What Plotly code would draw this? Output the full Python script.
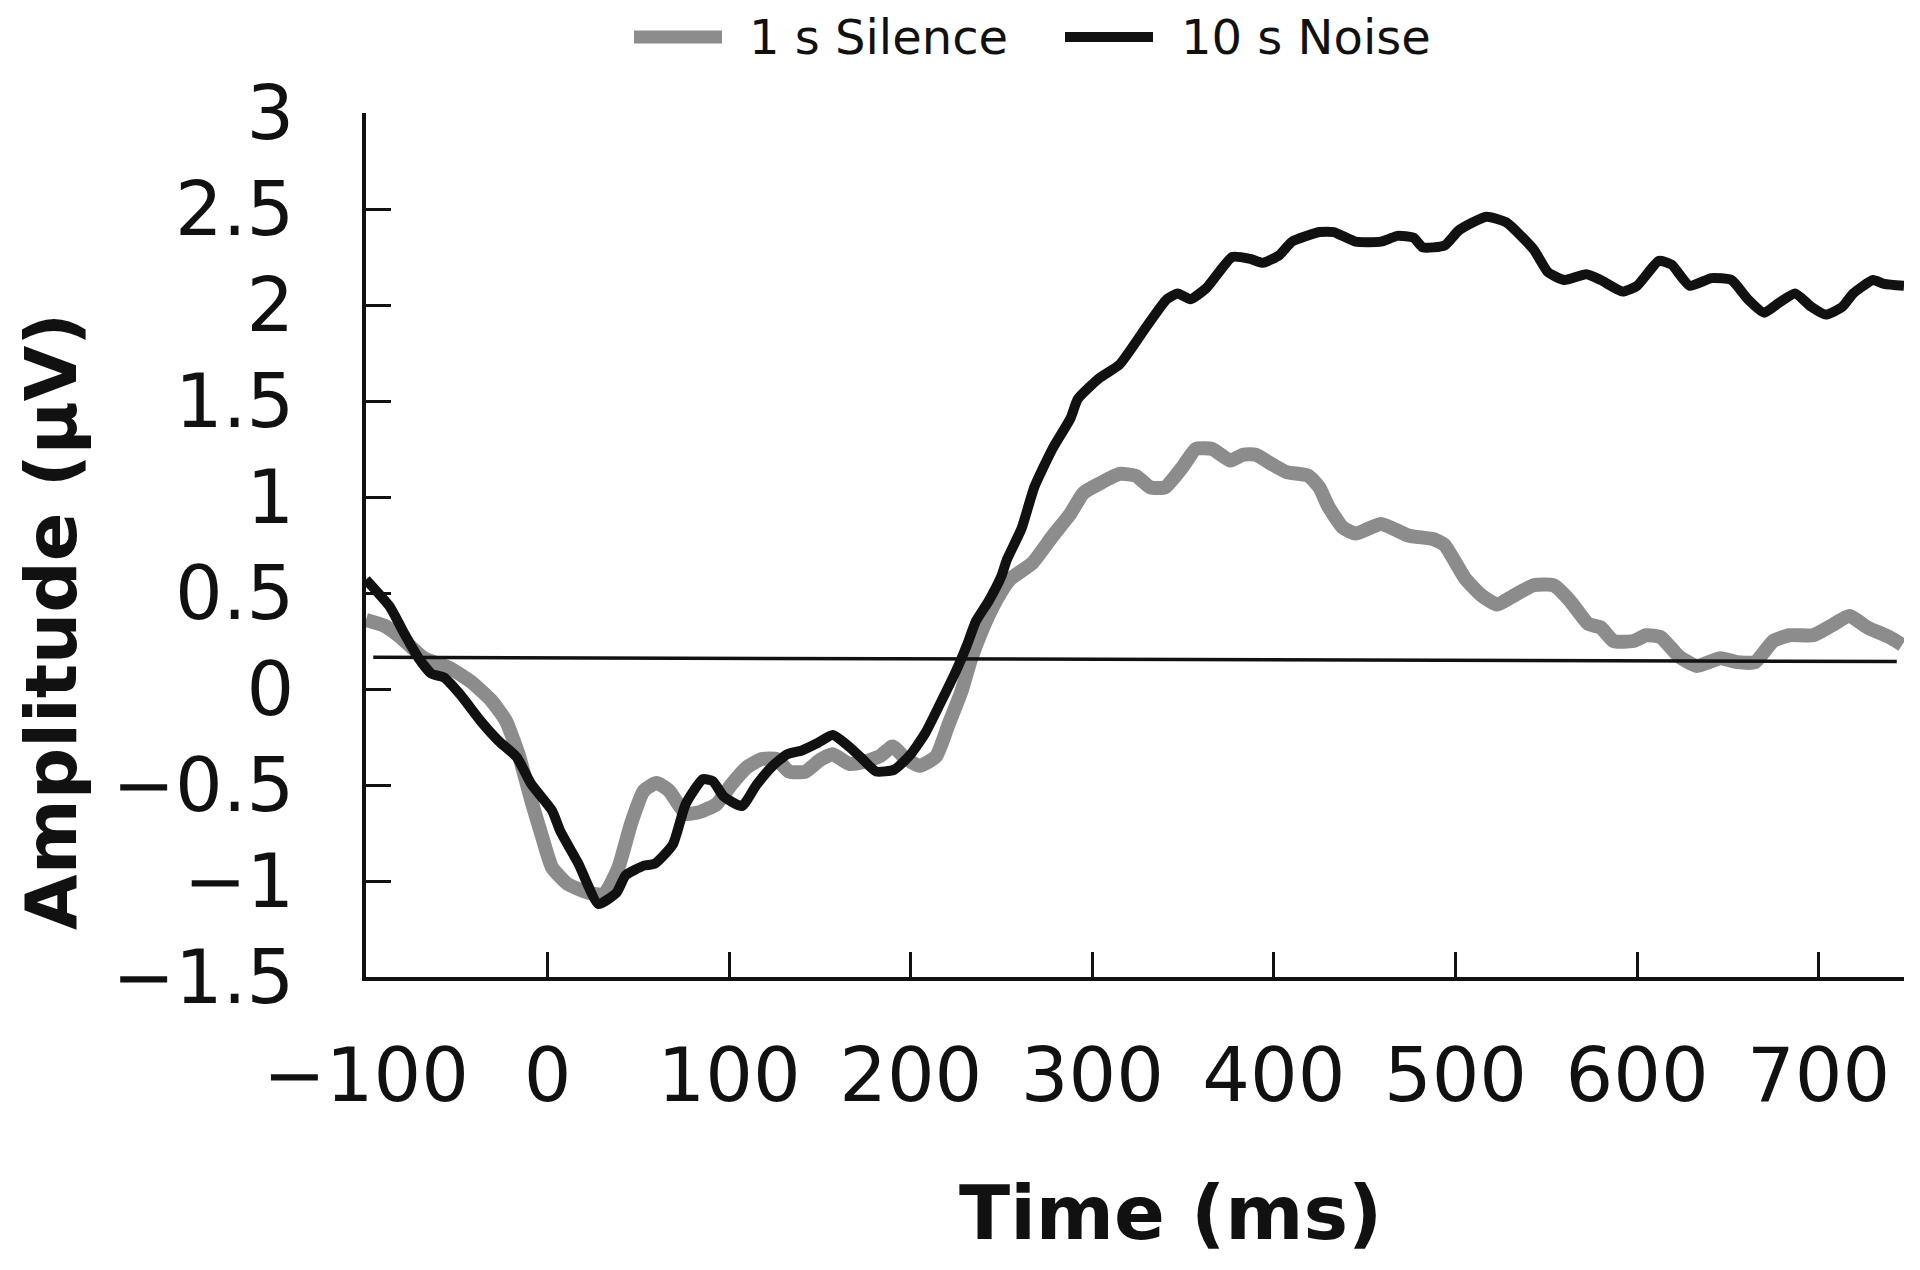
import plotly.graph_objects as go

# ---- data ----
noise_t = [-100, -87, -79, -71, -64, -57, -48, -37, -27, -17, -9, 2.5, 7, 17, 28, 38, 43, 53, 59, 69,
           76, 85.5, 91, 97, 107, 115, 124, 132, 140, 149, 157, 166, 174, 181, 191, 200, 208, 216, 225,
           231, 236, 243, 250, 253, 261, 268, 278, 288, 292, 304, 315, 330, 341, 347, 354, 363, 377,
           387, 394, 403, 410, 425, 433, 445, 459, 468, 477, 482, 494, 502, 517, 528, 543, 551, 560,
           572, 580, 592, 600, 612, 619, 629, 641, 652, 661, 670, 678, 687, 696, 704, 713, 719, 730,
           736, 747]
noise_v = [0.57, 0.43, 0.29, 0.16, 0.08, 0.06, -0.03, -0.165, -0.27, -0.355, -0.495, -0.634, -0.74,
           -0.91, -1.12, -1.06, -0.97, -0.92, -0.91, -0.81, -0.60, -0.47, -0.48, -0.56, -0.61, -0.50,
           -0.40, -0.34, -0.32, -0.28, -0.24, -0.30, -0.37, -0.43, -0.42, -0.34, -0.23, -0.08, 0.095,
           0.23, 0.355, 0.46, 0.59, 0.675, 0.835, 1.05, 1.25, 1.41, 1.51, 1.62, 1.69, 1.89, 2.03, 2.06,
           2.03, 2.09, 2.25, 2.24, 2.22, 2.26, 2.33, 2.38, 2.38, 2.33, 2.33, 2.36, 2.35, 2.30, 2.31,
           2.39, 2.46, 2.43, 2.29, 2.17, 2.13, 2.16, 2.13, 2.07, 2.10, 2.23, 2.21, 2.10, 2.14, 2.13,
           2.03, 1.96, 2.01, 2.06, 1.99, 1.95, 1.99, 2.06, 2.13, 2.11, 2.10]

silence_t = [-100, -90, -81, -68, -54, -42.5, -31, -23, -16, -9, -3, 2.5, 11, 22, 31, 39, 46, 53, 60,
             67, 76, 84, 93, 101, 109.5, 118, 126, 133, 142, 150, 157, 166, 174, 183, 190, 197, 205,
             214, 221, 228, 233, 239, 247, 254.5, 267, 278, 288, 295, 304, 315, 324, 332, 340, 350,
             357, 366, 376, 383, 390, 399, 407, 419, 425, 430, 438, 445, 459, 474, 488, 494, 505, 514,
             523, 531, 543, 554, 563, 573, 580, 587, 598, 605, 613, 623, 633, 646, 655, 665, 675, 684,
             697, 707, 717, 727, 739, 746]
silence_v = [0.36, 0.33, 0.27, 0.16, 0.11, 0.04, -0.06, -0.165, -0.34, -0.58, -0.77, -0.93, -1.015,
             -1.06, -1.07, -0.93, -0.70, -0.53, -0.49, -0.53, -0.65, -0.64, -0.60, -0.50, -0.41, -0.365,
             -0.365, -0.43, -0.43, -0.37, -0.34, -0.39, -0.38, -0.35, -0.30, -0.36, -0.40, -0.35, -0.18,
             -0.01, 0.15, 0.30, 0.46, 0.57, 0.656, 0.795, 0.914, 1.02, 1.07, 1.12, 1.11, 1.05, 1.05,
             1.16, 1.25, 1.25, 1.19, 1.22, 1.22, 1.17, 1.13, 1.11, 1.05, 0.95, 0.84, 0.81, 0.86, 0.80,
             0.78, 0.75, 0.58, 0.49, 0.44, 0.48, 0.54, 0.54, 0.46, 0.34, 0.32, 0.25, 0.25, 0.28, 0.27,
             0.17, 0.12, 0.16, 0.14, 0.14, 0.25, 0.28, 0.28, 0.33, 0.38, 0.32, 0.27, 0.23]

baseline_t = [-96, 743]
baseline_v = [0.165, 0.143]

x_ticks = [-100, 0, 100, 200, 300, 400, 500, 600, 700]
y_ticks = [-1.5, -1, -0.5, 0, 0.5, 1, 1.5, 2, 2.5, 3]

series_names = ["1 s Silence", "10 s Noise"]
GRAY = "#8c8c8c"
BLACK = "#111111"

# ---- layout geometry (page pixels; the page body has an 8px margin) ----
OFF = 8
W, H = 1920 - 2 * OFF, 1270 - 2 * OFF
PLOT_L, PLOT_R, PLOT_T, PLOT_B = 366, 1904, 113, 977   # page coordinates of plot area
L, R = PLOT_L - OFF, W - (PLOT_R - OFF)
T, B = PLOT_T - OFF, H - (PLOT_B - OFF)
PW, PH = PLOT_R - PLOT_L, PLOT_B - PLOT_T


def px(x):
    return (x - PLOT_L) / PW


def py(y):
    return (PLOT_B - y) / PH


fig = go.Figure()
fig.add_trace(go.Scatter(x=silence_t, y=silence_v, mode="lines", name=series_names[0],
                         line=dict(color=GRAY, width=14, shape="spline", smoothing=0.5),
                         showlegend=False))
fig.add_trace(go.Scatter(x=baseline_t, y=baseline_v, mode="lines",
                         line=dict(color=BLACK, width=3.5), showlegend=False, hoverinfo="skip"))
fig.add_trace(go.Scatter(x=noise_t, y=noise_v, mode="lines", name=series_names[1],
                         line=dict(color=BLACK, width=10, shape="spline", smoothing=0.5),
                         showlegend=False))

tickfont = dict(family="DejaVu Sans, Verdana, sans-serif", size=75, color="#111111")
xtitlefont = dict(family="DejaVu Sans, Verdana, sans-serif", size=75, color="#111111", weight="bold")
ytitlefont = dict(family="DejaVu Sans, Verdana, sans-serif", size=72, color="#111111", weight="bold")

fig.update_xaxes(range=[-100, 747], tickvals=x_ticks, ticks="inside", ticklen=25, tickwidth=3,
                 tickcolor="#111111", showline=True, linecolor="#111111", linewidth=3.5,
                 showgrid=False, zeroline=False, tickfont=tickfont, ticklabelstandoff=30)
fig.update_yaxes(range=[-1.5, 3.0], tickvals=y_ticks, ticks="inside", ticklen=25, tickwidth=3,
                 tickcolor="#111111", showline=True, linecolor="#111111", linewidth=3.5,
                 showgrid=False, zeroline=False, tickfont=tickfont, ticklabelstandoff=53)

annotations = [
    dict(text="Time (ms)", x=px(1170), y=py(1213), xref="paper", yref="paper",
         xanchor="center", yanchor="middle", showarrow=False, font=xtitlefont),
    dict(text="Amplitude (μV)", x=px(51), y=py(622), xref="paper", yref="paper", textangle=-90,
         xanchor="center", yanchor="middle", showarrow=False, font=ytitlefont),
]
legend_font = dict(family="DejaVu Sans, Verdana, sans-serif", size=48, color="#111111")
legend_items = [(series_names[0], GRAY, 13, 634, 722, 747),
                (series_names[1], BLACK, 10, 1065, 1153, 1179)]
shapes = []
for name, col, lw, x0, x1, xt in legend_items:
    shapes.append(dict(type="line", xref="paper", yref="paper", x0=px(x0), x1=px(x1),
                       y0=py(37), y1=py(37), line=dict(color=col, width=lw)))
    annotations.append(dict(text=name, x=px(xt), y=py(37), xref="paper", yref="paper",
                            xanchor="left", yanchor="middle", showarrow=False, font=legend_font))

fig.update_layout(width=W, height=H, margin=dict(l=L, r=R, t=T, b=B, autoexpand=False),
                  paper_bgcolor="white", plot_bgcolor="white", showlegend=False,
                  annotations=annotations, shapes=shapes)

fig.write_html("out.html")
